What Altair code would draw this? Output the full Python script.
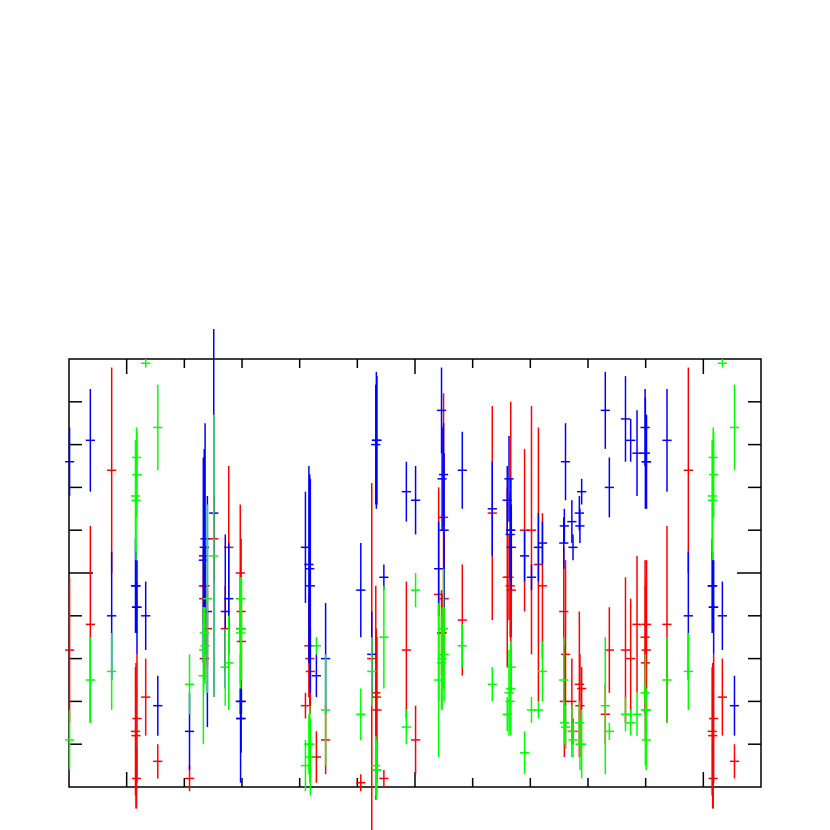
import altair as alt
import pandas as pd

x_vals = [0.01,0.37,0.74,1.162,1.153,1.179,1.171,1.33,1.54,2.09,
          2.33,2.335,2.345,2.36,2.40,2.51,2.71,2.77,2.97,2.985,2.975,2.99,
          4.10,4.16,4.175,4.185,4.29,4.45,5.06,5.25,5.32,5.33,5.34,5.46,5.85,6.01,
          6.41,6.46,6.47,6.495,6.505,6.82,7.34,7.60,7.63,7.65,7.66,7.67,7.90,8.02,8.14,8.21,
          8.58,8.59,8.61,8.72,8.74,8.85,8.86,8.89,9.30,9.37,9.65,9.74,9.85,9.99,9.995,10.01,10.015,
          10.37,10.74,11.162,11.153,11.179,11.171,11.33,11.54]

blue_y = [7.6,8.1,4.0,4.7,4.7,4.2,4.2,4.0,1.9,1.3,
          5.3,5.4,5.6,5.8,4.1,6.4,4.1,4.4,2.0,1.6,1.6,2.0,
          5.6,5.2,5.1,4.7,2.6,3.0,4.6,3.1,8.0,8.1,8.1,4.9,6.9,6.7,
          5.1,8.8,7.2,7.3,6.0,7.4,6.5,6.7,7.2,5.9,6.0,5.6,5.4,4.9,5.6,5.7,
          5.7,6.1,7.6,6.2,5.6,6.4,6.1,6.9,8.8,7.0,8.6,8.1,7.8,8.4,7.8,7.6,7.6,
          8.1,4.0,4.7,4.7,4.2,4.2,4.0,1.9]
blue_err = [0.8,1.2,1.5,0.8,1.1,1.1,0.6,0.8,0.7,0.9,
            2.4,2.2,2.3,2.7,2.7,4.3,1.8,1.3,0.3,0.8,1.5,0.3,
            1.3,2.3,2.2,2.5,0.5,1.3,1.1,1.0,1.4,1.6,1.5,0.3,0.7,0.8,
            1.1,1.0,1.2,1.2,1.8,0.9,1.1,0.8,1.0,1.0,1.2,1.0,0.6,0.3,0.8,0.5,
            0.6,0.4,0.9,0.5,0.3,0.4,0.4,0.3,0.9,0.7,1.0,0.5,1.0,0.9,1.3,0.8,1.1,
            1.2,1.5,0.8,1.1,1.1,0.6,0.8,0.7]

red_y = [3.2,3.8,7.4,1.2,1.3,1.6,0.2,2.1,0.6,0.2,
         4.7,4.4,3.0,4.7,3.7,5.8,3.7,5.6,5.0,4.1,3.7,3.4,
         1.9,3.3,3.0,2.7,0.7,1.1,0.1,3.0,2.2,2.1,1.8,0.2,3.2,1.1,
         4.5,3.6,3.6,6.3,4.4,3.9,6.4,4.9,4.9,4.7,6.0,4.6,6.0,6.0,5.2,4.7,
         4.1,2.0,3.1,2.0,1.3,2.4,1.9,2.3,1.7,3.2,3.2,3.0,3.8,3.5,2.9,3.2,3.8,
         3.8,7.4,1.2,1.3,1.6,0.2,2.1,0.6]
red_err = [1.7,2.3,2.4,1.7,1.5,1.5,0.7,0.9,0.4,0.3,
           0.9,0.9,0.5,0.9,0.9,1.0,1.0,1.9,1.6,1.7,1.3,1.0,
           0.3,1.2,1.2,1.0,0.6,0.8,0.2,4.1,2.5,1.6,1.7,0.2,1.6,0.8,
           2.5,1.0,0.9,2.9,1.5,1.3,2.5,2.1,1.0,1.2,3.0,1.1,1.9,2.9,3.2,1.7,
           1.5,1.3,2.2,1.0,0.3,1.7,1.2,0.5,0.7,1.0,1.7,1.4,1.6,1.8,1.8,1.7,1.5,
           2.3,2.4,1.7,1.5,1.5,0.7,0.9,0.4]

green_y = [1.1,2.5,2.7,6.7,6.8,7.3,7.7,9.9,8.4,2.4,
           2.6,3.2,3.6,3.3,4.4,5.4,2.8,2.9,4.4,3.7,3.6,3.7,
           0.5,1.0,1.0,0.7,3.3,1.8,1.7,2.7,0.5,0.4,0.4,3.5,1.4,4.6,
           2.5,2.9,3.0,3.7,3.1,3.3,2.4,1.7,2.2,2.0,2.3,2.8,0.8,1.8,1.8,2.7,
           2.5,1.5,1.4,1.3,1.1,1.5,1.0,1.0,1.9,1.3,1.7,1.5,1.7,2.2,1.8,1.1,1.8,
           2.5,2.7,6.7,6.8,7.3,7.7,9.9,8.4]
green_err = [0.7,1.0,0.9,1.4,1.3,1.0,0.7,0.1,1.0,0.7,
             1.6,1.0,0.6,0.9,2.2,3.3,0.9,1.1,0.5,1.2,1.3,1.2,
             0.6,0.7,0.9,0.9,0.2,1.3,0.6,0.8,0.7,0.7,0.6,1.2,0.4,0.4,
             1.8,1.1,1.2,1.4,1.1,0.5,0.4,0.4,1.0,0.7,1.1,0.6,0.5,0.3,0.2,0.7,
             1.0,0.5,0.5,0.6,0.4,0.5,0.6,0.8,1.6,0.2,0.4,0.3,0.5,0.2,1.3,0.7,0.5,
             1.0,0.9,1.4,1.3,1.0,0.7,0.1,1.0]

x_ticks = [1,2,3,4,5,6,7,8,9,10,11]
y_ticks = [1,2,3,4,5,6,7,8,9]
x_major = [1,6,11]
y_major = [5]
cap = 0.08

xs = alt.Scale(domain=[0,12], nice=False, zero=False)
ys = alt.Scale(domain=[0,10], nice=False, zero=False)
W, H = 692, 428
LW = 1.5

def series(ya, ea, color):
    df = pd.DataFrame({"x":x_vals,"y":ya,"e":ea})
    df["lo"]=df.y-df.e; df["hi"]=df.y+df.e
    df["xl"]=df.x-cap; df["xh"]=df.x+cap
    v = alt.Chart(df).mark_rule(color=color,strokeWidth=LW,clip=False).encode(
        x=alt.X("x:Q",scale=xs,axis=None),
        y=alt.Y("lo:Q",scale=ys,axis=None), y2="hi:Q")
    h = alt.Chart(df).mark_rule(color=color,strokeWidth=LW,clip=False).encode(
        x=alt.X("xl:Q",scale=xs,axis=None), x2="xh:Q",
        y=alt.Y("y:Q",scale=ys,axis=None))
    return [v,h]

def lenx(vals): return pd.DataFrame({"v":vals})

def vt(vals,n):
    d=lenx(vals)
    t=alt.Chart(d).mark_rule(color="black",strokeWidth=LW).encode(
        x=alt.X("v:Q",scale=xs,axis=None),y=alt.value(0),y2=alt.value(n))
    b=alt.Chart(d).mark_rule(color="black",strokeWidth=LW).encode(
        x=alt.X("v:Q",scale=xs,axis=None),y=alt.value(H-n),y2=alt.value(H))
    return [t,b]

def ht(vals,n):
    d=lenx(vals)
    l=alt.Chart(d).mark_rule(color="black",strokeWidth=LW).encode(
        y=alt.Y("v:Q",scale=ys,axis=None),x=alt.value(0),x2=alt.value(n))
    r=alt.Chart(d).mark_rule(color="black",strokeWidth=LW).encode(
        y=alt.Y("v:Q",scale=ys,axis=None),x=alt.value(W-n),x2=alt.value(W))
    return [l,r]

minx=[v for v in x_ticks if v not in x_major]
miny=[v for v in y_ticks if v not in y_major]
layers = vt(minx,9)+vt(x_major,15)+ht(miny,13)+ht(y_major,24)
layers += series(red_y,red_err,"#ff0000")+series(blue_y,blue_err,"#0000ff")+series(green_y,green_err,"#00ff00")

chart = alt.layer(*layers).properties(
    width=W,height=H,
    autosize=alt.AutoSizeParams(type="none"),
    padding={"left":61,"top":351,"right":61,"bottom":43},
    background="white"
).configure_view(stroke="black",strokeWidth=1.5)

assert all(len(a)==len(x_vals) for a in [blue_y,blue_err,red_y,red_err,green_y,green_err])
chart.save("out.html", embed_options={"renderer":"svg","actions":False})
